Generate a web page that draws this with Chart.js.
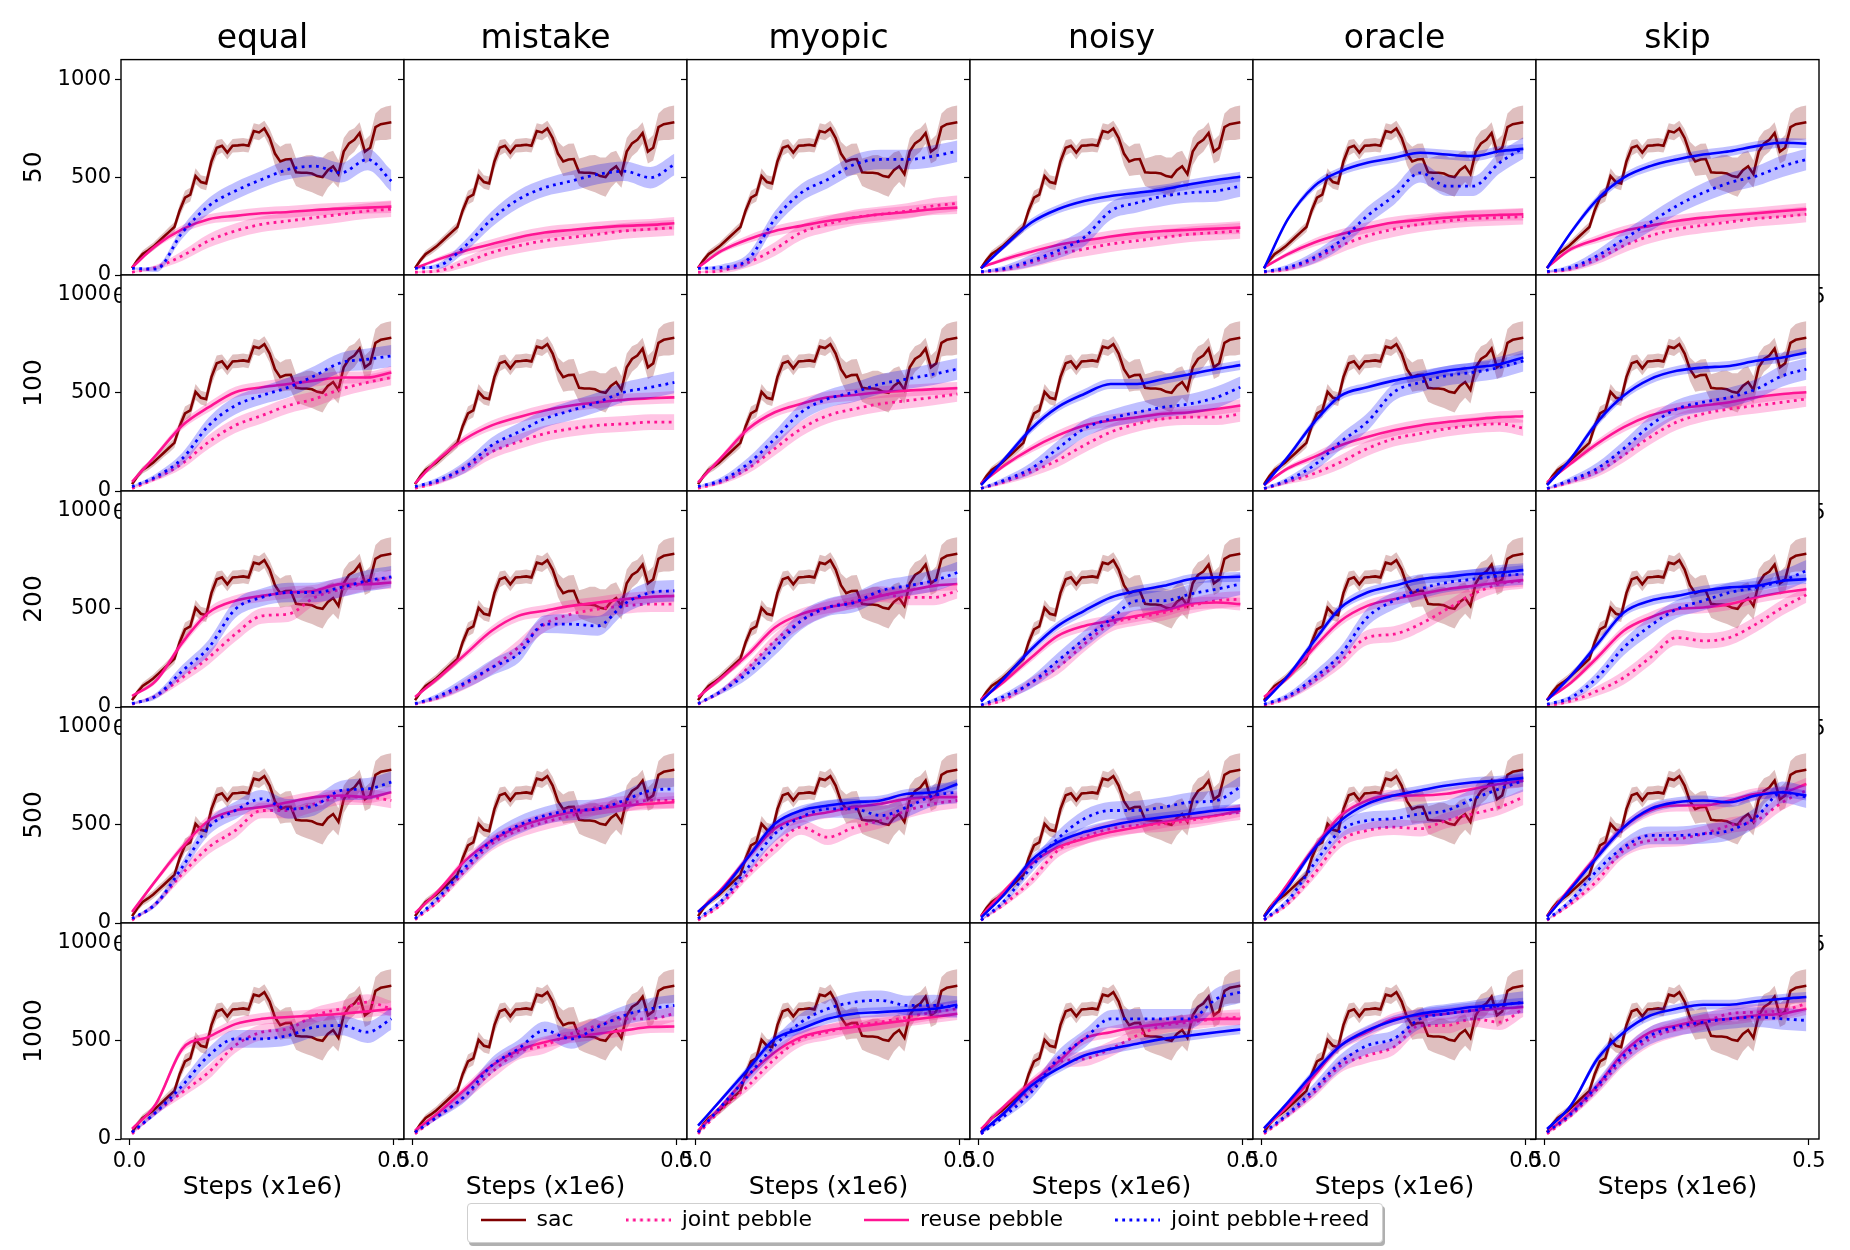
<!DOCTYPE html>
<html>
<head>
<meta charset="utf-8">
<script src="https://cdn.jsdelivr.net/npm/chart.js@4.4.0/dist/chart.umd.min.js"></script>
<style>
html, body { margin: 0; padding: 0; background: #fff; overflow: hidden; }
#fig { position: relative; width: 1850px; height: 1250px; }
#fig canvas { position: absolute; }
#legendBox {
    position: absolute; left: 467px; top: 1203px; width: 914px; height: 38px;
    border: 1px solid #cfcfcf; border-radius: 4px; background: #fff;
    box-shadow: 2px 3px 0 #b0b0b0;
}
</style>
</head>
<body>
<div id="fig"><div id="legendBox"></div></div>
<script>
// ---- data ----
var settings = ['equal', 'mistake', 'myopic', 'noisy', 'oracle', 'skip'];
var queries = ['50', '100', '200', '500', '1000'];
var methods = ['sac', 'joint pebble', 'reuse pebble', 'joint pebble+reed'];
var xTicks = [0, 0.5];
var yTicks = [0, 500, 1000];

// steps (x1e6) at which the smooth curves were read
var steps = [0.005, 0.05, 0.1, 0.15, 0.2, 0.25, 0.3, 0.35, 0.4, 0.45, 0.495];

// sac baseline, identical in every panel
var sacSteps = [0.005, 0.015, 0.025, 0.035, 0.045, 0.055, 0.065, 0.075, 0.085, 0.095,
    0.105, 0.115, 0.125, 0.135, 0.145, 0.155, 0.165, 0.175, 0.185, 0.195,
    0.205, 0.215, 0.225, 0.235, 0.245, 0.255, 0.265, 0.275, 0.285, 0.295,
    0.305, 0.315, 0.325, 0.335, 0.345, 0.355, 0.365, 0.375, 0.385, 0.395,
    0.405, 0.415, 0.425, 0.435, 0.445, 0.455, 0.465, 0.475, 0.485, 0.495];
var sacReturn = [35, 75, 107, 125, 145, 170, 195, 220, 245, 330,
    395, 410, 505, 475, 468, 580, 650, 660, 625, 660,
    662, 665, 660, 735, 728, 748, 700, 620, 580, 590,
    592, 525, 522, 522, 518, 505, 500, 535, 555, 515,
    630, 672, 690, 725, 630, 650, 755, 770, 775, 780];
var sacSpread = [12, 15, 18, 20, 20, 22, 22, 25, 25, 30,
    35, 35, 40, 35, 35, 40, 40, 35, 35, 35,
    35, 35, 35, 40, 40, 40, 45, 60, 75, 80,
    80, 70, 80, 90, 95, 95, 100, 90, 80, 70,
    70, 65, 60, 55, 60, 65, 70, 80, 85, 85];

// typical half-width of the shaded bands along the steps
var jointSpread = [4, 12, 25, 35, 38, 40, 40, 40, 40, 40, 40];
var reuseSpread = [4, 12, 20, 25, 28, 30, 30, 30, 30, 30, 32];
var jointReedSpread = [4, 15, 30, 40, 45, 45, 50, 50, 50, 55, 55];
var reuseReedSpread = [4, 12, 20, 22, 25, 25, 25, 25, 25, 25, 25];

// columns: equal, mistake, myopic, noisy, oracle, skip
var jointPebble50 = [
    [14, 39, 98, 175, 225, 259, 276, 293, 310, 327, 336],
    [14, 22, 64, 115, 149, 175, 192, 208, 225, 234, 242],
    [14, 22, 64, 132, 217, 259, 293, 310, 327, 353, 366],
    [14, 27, 64, 107, 132, 158, 175, 192, 208, 217, 225],
    [14, 30, 81, 149, 200, 234, 259, 276, 288, 293, 298],
    [14, 30, 81, 149, 200, 234, 254, 271, 288, 298, 310]];
var reusePebble50 = [
    [39, 149, 234, 285, 302, 315, 322, 332, 339, 344, 349],
    [34, 81, 124, 158, 192, 217, 230, 242, 251, 256, 264],
    [39, 124, 183, 225, 251, 276, 293, 310, 322, 336, 344],
    [39, 81, 119, 153, 175, 197, 214, 225, 231, 237, 242],
    [39, 107, 166, 208, 242, 268, 281, 293, 302, 307, 310],
    [39, 132, 183, 225, 251, 276, 293, 305, 315, 327, 336]];
var jointReed50 = [
    [34, 30, 217, 353, 429, 488, 539, 556, 522, 590, 480],
    [34, 47, 149, 285, 386, 446, 480, 514, 530, 497, 564],
    [34, 39, 81, 285, 420, 488, 564, 590, 590, 607, 632],
    [17, 34, 73, 124, 192, 327, 369, 403, 420, 429, 454],
    [17, 39, 90, 175, 302, 403, 522, 454, 454, 573, 649],
    [17, 39, 98, 183, 268, 353, 420, 471, 505, 556, 590]];
var reuseReed50 = [
    null, null, null,
    [34, 149, 268, 336, 378, 403, 420, 437, 463, 485, 502],
    [34, 285, 454, 530, 573, 598, 624, 615, 607, 632, 644],
    [34, 217, 386, 497, 556, 590, 615, 632, 658, 675, 671]];

var jointPebble100 = [
    [13, 64, 140, 250, 334, 384, 435, 469, 519, 553, 578],
    [13, 47, 115, 199, 250, 292, 317, 334, 342, 351, 351],
    [13, 47, 115, 216, 317, 384, 418, 444, 460, 477, 494],
    [13, 47, 98, 157, 233, 300, 342, 368, 376, 376, 393],
    [10, 47, 89, 148, 216, 266, 292, 317, 334, 342, 320],
    [10, 47, 98, 182, 275, 351, 393, 418, 435, 452, 469]];
var reusePebble100 = [
    [47, 182, 334, 427, 503, 528, 545, 562, 578, 578, 604],
    [39, 165, 266, 334, 376, 410, 435, 452, 465, 472, 477],
    [44, 174, 317, 401, 444, 477, 489, 503, 511, 519, 523],
    [39, 132, 216, 283, 334, 359, 376, 393, 401, 418, 435],
    [30, 115, 174, 233, 275, 309, 334, 351, 364, 376, 381],
    [44, 140, 241, 325, 384, 418, 435, 452, 477, 494, 503]];
var jointReed100 = [
    [22, 73, 165, 334, 435, 486, 528, 587, 654, 671, 688],
    [22, 56, 123, 233, 300, 368, 410, 452, 503, 528, 553],
    [22, 56, 140, 266, 401, 469, 503, 545, 570, 595, 621],
    [13, 56, 115, 216, 317, 368, 401, 427, 444, 477, 528],
    [13, 56, 132, 250, 351, 503, 553, 587, 604, 629, 663],
    [13, 56, 115, 216, 334, 418, 452, 477, 519, 587, 621]];
var reuseReed100 = [
    null, null, null,
    [30, 165, 317, 427, 494, 545, 545, 570, 595, 621, 641],
    [30, 174, 351, 486, 528, 562, 587, 612, 629, 646, 680],
    [30, 165, 351, 486, 570, 612, 629, 637, 663, 680, 705]];

var jointPebble200 = [
    [14, 56, 150, 252, 371, 464, 473, 558, 600, 634, 660],
    [14, 48, 116, 201, 303, 422, 473, 498, 515, 524, 524],
    [14, 82, 201, 337, 439, 507, 541, 575, 558, 558, 592],
    [5, 39, 124, 201, 320, 422, 456, 481, 515, 541, 549],
    [5, 48, 133, 235, 354, 371, 422, 498, 575, 626, 643],
    [5, 31, 82, 150, 252, 354, 337, 354, 422, 507, 571]];
var reusePebble200 = [
    [56, 133, 328, 481, 541, 566, 583, 592, 626, 626, 634],
    [51, 150, 269, 388, 464, 490, 515, 532, 549, 561, 566],
    [51, 150, 269, 405, 473, 507, 532, 566, 592, 617, 626],
    [39, 133, 252, 362, 413, 439, 464, 490, 524, 532, 524],
    [51, 150, 303, 439, 515, 549, 575, 600, 617, 634, 646],
    [39, 124, 252, 388, 456, 498, 507, 524, 558, 583, 600]];
var jointReed200 = [
    [17, 56, 184, 303, 498, 558, 583, 583, 609, 643, 663],
    [17, 56, 124, 201, 269, 422, 422, 413, 524, 583, 592],
    [17, 82, 175, 303, 439, 507, 532, 592, 617, 643, 685],
    [10, 56, 124, 235, 345, 447, 541, 541, 575, 600, 626],
    [14, 56, 150, 269, 456, 541, 600, 634, 651, 668, 677],
    [14, 48, 150, 303, 413, 498, 541, 583, 609, 643, 694]];
var reuseReed200 = [
    null, null, null,
    [27, 150, 294, 413, 490, 558, 592, 617, 651, 660, 663],
    [27, 158, 337, 507, 583, 617, 651, 663, 677, 685, 697],
    [34, 158, 320, 481, 541, 566, 592, 609, 617, 643, 651]];

var jointPebble500 = [
    [14, 98, 251, 386, 471, 573, 573, 607, 641, 641, 624],
    [17, 115, 268, 403, 471, 514, 547, 590, 607, 624, 624],
    [14, 98, 251, 386, 488, 437, 488, 522, 573, 607, 624],
    [14, 98, 217, 369, 437, 480, 497, 505, 522, 547, 564],
    [14, 98, 251, 420, 471, 488, 480, 522, 556, 590, 641],
    [14, 98, 217, 369, 420, 429, 454, 497, 522, 615, 675]];
var reusePebble500 = [
    [56, 217, 386, 522, 573, 590, 615, 641, 649, 641, 666],
    [51, 166, 319, 420, 488, 531, 564, 581, 598, 607, 615],
    [56, 175, 336, 480, 539, 564, 590, 607, 632, 641, 641],
    [34, 166, 302, 386, 429, 463, 488, 514, 531, 547, 573],
    [31, 200, 386, 547, 624, 649, 649, 658, 683, 708, 725],
    [34, 183, 344, 488, 573, 598, 598, 624, 658, 666, 708]];
var jointReed500 = [
    [22, 98, 285, 488, 573, 632, 581, 598, 675, 683, 717],
    [22, 132, 285, 420, 497, 547, 573, 581, 624, 675, 683],
    [22, 115, 285, 454, 539, 581, 581, 547, 590, 649, 666],
    [14, 115, 285, 429, 531, 573, 573, 590, 615, 624, 692],
    [17, 115, 302, 471, 522, 531, 556, 573, 632, 683, 725],
    [17, 115, 268, 386, 446, 446, 454, 471, 539, 666, 641]];
var reuseReed500 = [
    null, null,
    [56, 166, 336, 505, 573, 598, 615, 624, 658, 666, 708],
    [27, 149, 319, 412, 463, 497, 522, 539, 556, 573, 581],
    [31, 183, 378, 522, 607, 649, 675, 700, 717, 725, 739],
    [31, 175, 336, 488, 581, 615, 624, 615, 649, 666, 649]];

var jointPebble1000 = [
    [26, 136, 238, 340, 476, 544, 561, 629, 663, 697, 663],
    [26, 119, 221, 340, 442, 476, 536, 578, 612, 612, 638],
    [26, 153, 272, 408, 510, 544, 578, 595, 621, 646, 663],
    [26, 136, 255, 391, 408, 459, 527, 578, 595, 612, 621],
    [26, 119, 238, 374, 425, 468, 578, 578, 612, 595, 663],
    [26, 119, 255, 408, 510, 561, 595, 638, 646, 655, 689]];
var reusePebble1000 = [
    [51, 178, 459, 520, 585, 612, 621, 629, 638, 650, 663],
    [43, 136, 255, 374, 451, 493, 519, 536, 553, 570, 573],
    [43, 170, 323, 442, 519, 553, 570, 587, 604, 621, 638],
    [51, 170, 289, 391, 510, 544, 570, 587, 604, 612, 612],
    [54, 170, 323, 476, 544, 612, 629, 638, 655, 663, 672],
    [34, 136, 272, 442, 544, 578, 604, 612, 629, 638, 663]];
var jointReed1000 = [
    [34, 136, 272, 425, 510, 510, 527, 570, 578, 544, 612],
    [34, 119, 221, 374, 459, 553, 510, 570, 629, 663, 680],
    [34, 170, 323, 476, 595, 663, 697, 706, 680, 680, 672],
    [26, 119, 238, 408, 510, 612, 612, 612, 612, 714, 748],
    [34, 128, 255, 391, 476, 510, 612, 638, 655, 680, 697],
    [34, 128, 272, 425, 527, 570, 595, 612, 621, 612, 604]];
var reuseReed1000 = [
    null, null,
    [68, 204, 357, 510, 561, 612, 638, 646, 655, 663, 684],
    [34, 136, 272, 357, 425, 459, 485, 510, 527, 544, 558],
    [54, 187, 340, 476, 553, 604, 638, 655, 672, 684, 694],
    [51, 170, 408, 544, 629, 663, 684, 684, 701, 714, 723]];

var jointPebble = [jointPebble50, jointPebble100, jointPebble200, jointPebble500, jointPebble1000];
var reusePebble = [reusePebble50, reusePebble100, reusePebble200, reusePebble500, reusePebble1000];
var jointReed = [jointReed50, jointReed100, jointReed200, jointReed500, jointReed1000];
var reuseReed = [reuseReed50, reuseReed100, reuseReed200, reuseReed500, reuseReed1000];

// ---- layout ----
var PANEL_W = 283, PANEL_H = 216, FIG_LEFT = 121, FIG_TOP = 59;
var PAD_SIDE = 120, PAD_TOP = 59, PAD_BOTTOM = 70;
var X_MIN = -0.0159, X_MAX = 0.5189;

var sacColor = '#800000', pinkColor = '#ff1493', blueColor = '#0000ff';
var sacBand = 'rgba(128,0,0,0.25)', pinkBand = 'rgba(255,20,147,0.25)', blueBand = 'rgba(0,0,255,0.25)';
var dotted = [2.8, 4.4];
var SOLID_W = 2.6, DOT_W = 2.8;

Chart.defaults.font.family = '"DejaVu Sans", sans-serif';
Chart.defaults.color = '#000';

var fig = document.getElementById('fig');

// white axes background below, black frame on top
var panelFrame = {
    id: 'panelFrame',
    beforeDraw: function(chart) {
        var a = chart.chartArea, ctx = chart.ctx;
        ctx.save();
        ctx.fillStyle = '#fff';
        ctx.fillRect(a.left, a.top, a.right - a.left, a.bottom - a.top);
        ctx.restore();
    },
    afterDatasetsDraw: function(chart) {
        var a = chart.chartArea, ctx = chart.ctx;
        ctx.save();
        ctx.strokeStyle = '#000';
        ctx.lineWidth = 1.4;
        ctx.strokeRect(a.left, a.top, a.right - a.left, a.bottom - a.top);
        ctx.restore();
    }
};

function addSeries(list, xs, mean, spread, color, band, dash, order, smooth) {
    var mode = smooth ? 'monotone' : 'default';
    list.push({
        data: xs.map(function(x, i) { return {x: x, y: mean[i] + spread[i]}; }),
        borderColor: 'rgba(0,0,0,0)', borderWidth: 0, backgroundColor: band,
        fill: '+1', pointRadius: 0, tension: 0, cubicInterpolationMode: mode, order: order + 0.5
    });
    list.push({
        data: xs.map(function(x, i) { return {x: x, y: mean[i] - spread[i]}; }),
        borderColor: 'rgba(0,0,0,0)', borderWidth: 0, fill: false,
        pointRadius: 0, tension: 0, cubicInterpolationMode: mode, order: order + 0.5
    });
    list.push({
        data: xs.map(function(x, i) { return {x: x, y: mean[i]}; }),
        borderColor: color, borderWidth: dash.length ? DOT_W : SOLID_W, borderDash: dash,
        fill: false, pointRadius: 0, tension: 0, cubicInterpolationMode: mode, order: order
    });
}

function makePanel(r, c) {
    var w = PANEL_W + 2 * PAD_SIDE, h = PANEL_H + PAD_TOP + PAD_BOTTOM;
    var canvas = document.createElement('canvas');
    canvas.width = w;
    canvas.height = h;
    canvas.style.left = (FIG_LEFT + c * PANEL_W - PAD_SIDE) + 'px';
    canvas.style.top = (FIG_TOP + r * PANEL_H - PAD_TOP) + 'px';
    canvas.style.width = w + 'px';
    canvas.style.height = h + 'px';
    fig.appendChild(canvas);

    var ds = [];
    addSeries(ds, sacSteps, sacReturn, sacSpread, sacColor, sacBand, [], 40, false);
    addSeries(ds, steps, jointPebble[r][c], jointSpread, pinkColor, pinkBand, dotted, 30, true);
    addSeries(ds, steps, reusePebble[r][c], reuseSpread, pinkColor, pinkBand, [], 20, true);
    addSeries(ds, steps, jointReed[r][c], jointReedSpread, blueColor, blueBand, dotted, 10, true);
    if (reuseReed[r][c]) {
        addSeries(ds, steps, reuseReed[r][c], reuseReedSpread, blueColor, blueBand, [], 0, true);
    }

    new Chart(canvas, {
        type: 'line',
        data: {datasets: ds},
        options: {
            responsive: false,
            animation: false,
            events: [],
            layout: {padding: {left: 0, right: PAD_SIDE, top: r === 0 ? 20 : PAD_TOP, bottom: 0}},
            plugins: {
                legend: {display: false},
                tooltip: {enabled: false},
                title: {
                    display: r === 0, text: settings[c], color: '#000', fullSize: false,
                    font: {size: 33, weight: 'normal'}, padding: {top: 0, bottom: 0}
                }
            },
            scales: {
                x: {
                    type: 'linear', min: X_MIN, max: X_MAX,
                    afterBuildTicks: function(axis) { axis.ticks = xTicks.map(function(v) { return {value: v}; }); },
                    afterFit: function(axis) { axis.height = PAD_BOTTOM; },
                    ticks: {
                        font: {size: 21}, color: '#000', padding: 4, maxRotation: 0, autoSkip: false,
                        callback: function(v) { return Number(v).toFixed(1); }
                    },
                    grid: {drawOnChartArea: false, color: '#000', tickLength: 6, tickWidth: 1.2},
                    border: {display: false},
                    title: {
                        display: r === queries.length - 1, text: 'Steps (x1e6)', color: '#000',
                        font: {size: 25}, padding: {top: 0, bottom: 7}
                    }
                },
                y: {
                    type: 'linear', min: 0, max: 1100,
                    afterBuildTicks: function(axis) { axis.ticks = yTicks.map(function(v) { return {value: v}; }); },
                    afterFit: function(axis) { axis.width = PAD_SIDE; },
                    ticks: {
                        display: c === 0, font: {size: 21}, color: '#000', padding: 4,
                        callback: function(v) { return String(v); }
                    },
                    grid: {drawOnChartArea: false, color: '#000', tickLength: 6, tickWidth: 1.2},
                    border: {display: false},
                    title: {
                        display: c === 0, text: queries[r], color: '#000',
                        font: {size: 25}, padding: {top: 18, bottom: 0}
                    }
                }
            }
        },
        plugins: [panelFrame]
    });
}

for (var r = 0; r < queries.length; r++) {
    for (var c = 0; c < settings.length; c++) {
        makePanel(r, c);
    }
}

// ---- legend ----
var legendColors = [sacColor, pinkColor, pinkColor, blueColor];
var legendDash = [[], dotted, [], dotted];

// little line samples, so dotted handles stay dotted
function lineSwatch(color, dash) {
    var sw = document.createElement('canvas');
    sw.width = 45;
    sw.height = 8;
    var g = sw.getContext('2d');
    g.strokeStyle = color;
    g.lineWidth = dash.length ? DOT_W : SOLID_W;
    g.setLineDash(dash);
    g.beginPath();
    g.moveTo(0, 4);
    g.lineTo(45, 4);
    g.stroke();
    return sw;
}
var swatches = methods.map(function(m, i) { return lineSwatch(legendColors[i], legendDash[i]); });

// tall enough that the legend box (capped at half the canvas height) is not clipped
var lc = document.createElement('canvas');
lc.width = 1100;
lc.height = 220;
lc.style.left = '375px';
lc.style.top = '1157px';
lc.style.width = '1100px';
lc.style.height = '220px';
fig.appendChild(lc);

new Chart(lc, {
    type: 'line',
    data: {
        datasets: methods.map(function(m, i) {
            return {label: m, data: [], borderColor: legendColors[i], backgroundColor: legendColors[i],
                borderWidth: 2.2, borderDash: legendDash[i]};
        })
    },
    options: {
        responsive: false,
        animation: false,
        events: [],
        layout: {padding: 0},
        scales: {x: {display: false}, y: {display: false}},
        plugins: {
            tooltip: {enabled: false},
            legend: {
                display: true, position: 'top',
                labels: {
                    usePointStyle: true, pointStyleWidth: 45,
                    padding: 52, font: {size: 22}, color: '#000',
                    generateLabels: function(chart) {
                        var items = Chart.defaults.plugins.legend.labels.generateLabels(chart);
                        items.forEach(function(it, i) { it.pointStyle = swatches[i]; });
                        return items;
                    }
                }
            }
        }
    }
});
</script>
</body>
</html>
